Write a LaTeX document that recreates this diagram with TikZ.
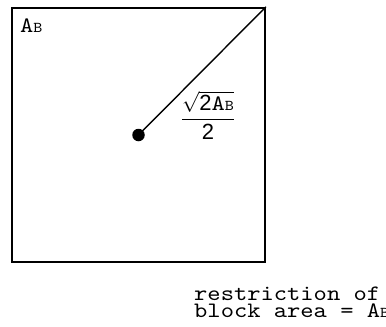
\documentclass[tikz,border=0pt]{standalone}
\usepackage{amsmath}
\usepackage{fontspec}
\setmainfont[FakeStretch=1.15]{lmmono10-regular.otf}
\newfontfamily\digitfont{Liberation Sans}
\newcommand{\areaB}{A{\fontsize{15}{15}\selectfont B}}
\begin{document}
\begin{tikzpicture}[x=1pt, y=-1pt, every node/.style={font=\fontsize{22}{17}\selectfont, inner sep=0pt},
  blockbox/.style={draw, line width=2pt, minimum width=253pt, minimum height=254pt},
  centerdot/.style={circle, fill=black, minimum size=12.5pt}]
  \useasboundingbox (0,0) rectangle (386,327);
  \clip (0,0) rectangle (386,327);
  % Block and its area
  \node[blockbox] (blk) at (138.5,134.75) {};
  \node[anchor=base west] (area) at (20,32) {\areaB};
  % Centre to corner
  \node[centerdot] (ctr) at (138.5,135) {};
  \draw[line width=1.4pt] (ctr.center) -- (blk.north east);
  \node[font=\fontsize{22}{22}\selectfont] (half) at (208,115) {$\dfrac{\sqrt{\text{\digitfont 2}\text{\areaB}}}{\text{\digitfont 2}}$};
  % Note below
  \node[anchor=base west] (note) at (194,300.5) {restriction of};
  \node[anchor=base west] (note2) at (194,317) {block area = \areaB};
\end{tikzpicture}
\end{document}
